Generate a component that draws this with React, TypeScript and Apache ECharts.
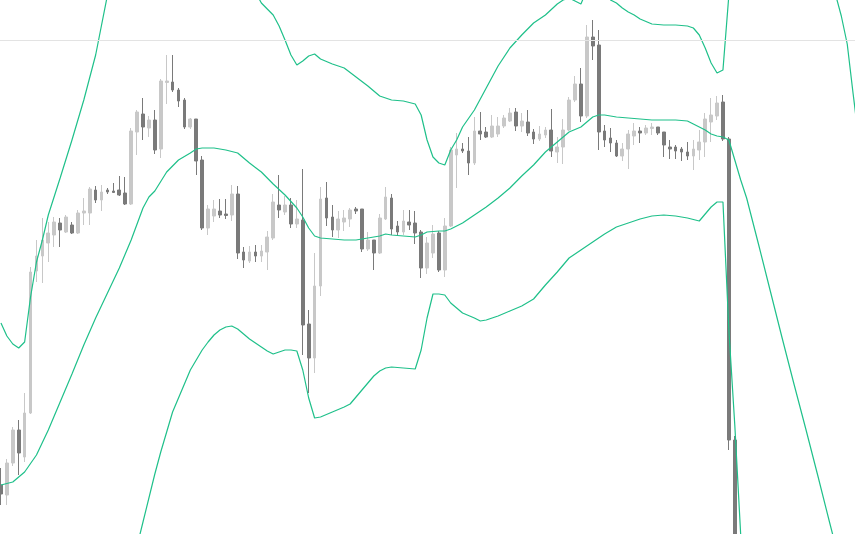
import React, { useEffect, useRef } from "react";
import * as echarts from "echarts";

// Each candle: [open, close, low, high]
const candles: number[][] = [
  [49, 40, 29, 66], [39, 71, 29, 75], [71, 104, 68, 107], [104, 81, 59, 114], [77, 121, 72, 141],
  [121, 262, 120, 267], [263, 278, 252, 294], [278, 294, 251, 316], [291, 301, 272, 312], [299, 312, 287, 317],
  [311, 304, 287, 316], [302, 317, 301, 319], [309, 301, 300, 312], [301, 321, 300, 324], [321, 323, 309, 336],
  [321, 345, 309, 347], [344, 334, 331, 348], [334, 342, 323, 349], [344, 342, 340, 346], [343, 341.5, 341, 351],
  [344, 339, 338, 358], [341, 330, 329, 357], [330, 403, 329, 406], [402, 422, 379, 424], [420, 407, 394, 436],
  [406, 414, 397, 418], [414, 384, 380, 424], [385, 453, 376, 455], [451.5, 453, 430, 479], [452, 444, 442, 479],
  [444, 433, 427, 446], [434, 407, 405, 436], [407, 415, 405, 416], [415, 373, 359, 415], [374, 306, 304, 378],
  [306, 325, 299, 329], [318, 325, 312, 334], [323, 319, 316, 335], [320, 318.5, 315, 335], [319, 340, 313, 349],
  [340, 281, 275, 348], [282, 274, 266, 287], [273, 282, 271, 288], [282, 278, 272, 289], [278, 283, 272, 289],
  [282, 297, 264, 303], [296, 332, 294, 340], [329, 324, 316, 359], [322, 329, 319, 338], [329, 310, 306, 336],
  [310, 315, 306, 334], [314, 209, 179, 365], [210, 176, 141, 224], [176, 248, 161, 281], [248, 335, 238, 347],
  [336, 316, 308, 352], [317, 304, 297, 329], [304, 315, 296, 323], [312, 316, 303, 324], [315, 324, 307, 326],
  [325, 323, 320, 327], [325, 285, 282, 325], [285, 294, 283, 302], [294, 281, 264, 294], [281, 316, 280, 320],
  [315, 337, 314, 347], [336, 305, 299, 340], [308, 302, 298, 313], [302, 313, 299, 324], [312, 309, 304, 324],
  [311, 301, 290, 323], [302, 266, 256, 304], [266, 291, 260, 297], [281, 300, 276, 309], [301, 264, 262, 303],
  [264, 308, 257, 316], [308, 384, 307, 387], [379, 385, 346, 401], [385, 383, 381, 391], [383, 371, 359, 397],
  [371, 403, 369, 417], [403, 400, 394, 422], [402, 397, 396, 407], [397, 408, 396, 419], [400, 408, 397, 417],
  [408, 416, 406, 419], [413, 421, 412, 426], [422, 408, 403, 426], [408, 413, 402, 421], [412, 401, 398, 424],
  [402, 395, 390, 405], [395, 400, 393, 408], [399, 404, 396, 407], [404, 383, 377, 425], [382, 387, 371, 397],
  [387, 404, 370, 415], [404, 434, 403, 437], [434, 450, 432, 458], [450, 418, 412, 466], [418, 497, 416, 509],
  [497, 488, 474, 514], [489, 402, 384, 504], [403, 394, 387, 409], [396, 391, 382, 406], [391, 378, 377, 394],
  [378, 385, 373, 391], [385, 400, 365, 404], [398, 403, 389, 411], [403, 401, 391, 407], [401, 406, 399, 409],
  [405.5, 407, 399, 411], [407, 401, 399, 407], [402, 389, 377, 402], [387, 385, 375, 394], [387, 383, 375, 389],
  [385, 382, 373, 387], [382, 378, 374, 392], [378, 385, 364, 394], [384, 392, 374, 404], [392, 415, 377, 421],
  [412, 419, 392, 436], [418, 431, 414, 438], [432, 395, 393, 439], [395, 94, 84, 397], [94, -66, -86, 98],
];

// Bands: [category index, value]
const upperBand: number[][] = [
  [0, 211], [1, 198], [2, 190], [3, 186], [4, 192], [5, 237], [6, 272], [7, 294], [8, 319], [10, 356],
  [12, 394], [14, 434], [16, 479], [17, 509], [18, 539], [20, 594], [30, 750], [42, 559], [43, 542], [44, 531],
  [45, 525], [46, 519], [47, 508], [48, 494], [49, 479], [50, 469], [51, 473], [52, 478], [53, 480], [54, 475],
  [56, 470], [58, 466], [60, 457], [62, 448], [64, 438], [66, 434], [68, 433], [70, 430], [71, 419], [72, 394],
  [73, 377], [74, 371], [75, 369], [76, 384], [77, 394], [78, 407], [80, 424], [82, 446], [84, 468], [86, 486],
  [88, 499], [90, 511], [92, 519], [94, 530], [95, 534], [96, 536], [97, 533], [98, 530], [99, 544], [101, 574],
  [103, 534], [104, 531], [105, 526], [106, 522], [107, 519], [108, 515], [110, 510], [112, 509], [114, 509],
  [116, 508], [117, 506], [118, 499], [119, 486], [120, 471], [121, 461], [122, 464], [123, 539], [124, 650],
  [132, 750], [141, 540], [142, 518], [143, 490], [144, 440], [145, 392],
];

const middleBand: number[][] = [
  [0, 49], [2, 52], [4, 62], [6, 79], [8, 104], [10, 132], [12, 160], [14, 189], [16, 216], [18, 241],
  [20, 266], [22, 294], [24, 326], [25, 337], [26, 343], [28, 362], [30, 374], [32, 381], [33, 385], [34, 386],
  [36, 386], [38, 384], [40, 381], [42, 371], [44, 362], [46, 350], [48, 339], [50, 326], [51, 317], [52, 306],
  [53, 298], [54, 296], [56, 295], [58, 294], [60, 294], [62, 296], [64, 298], [65, 300], [66, 299], [68, 298],
  [70, 297], [71, 299], [72, 302], [74, 303], [75, 303], [76, 305], [78, 311], [80, 319], [82, 327], [84, 336],
  [86, 346], [88, 358], [90, 369], [92, 382], [94, 392], [96, 402], [98, 407], [99, 412], [100, 417], [101, 419],
  [102, 419], [104, 417], [106, 416], [108, 415], [110, 414], [112, 414], [114, 414], [116, 413], [117, 410],
  [118, 407], [119, 404], [120, 400], [121, 398], [122, 397], [123, 394], [124, 374], [125, 354], [126, 336],
  [128, 290], [130, 243], [132, 196], [134, 150], [136, 105], [138, 59], [140, 12], [141, -11],
];

const lowerBand: number[][] = [
  [22, -36], [24, 12], [26, 60], [27, 82], [28, 102], [29, 122], [31, 150], [32, 164], [33, 174], [34, 184],
  [35, 192], [36, 199], [37, 204], [38, 207], [39, 208], [40, 205], [41, 200], [42, 195], [43, 191], [44, 187],
  [45, 183], [46, 180], [47, 182], [48, 184], [49, 184], [50, 183], [51, 164], [52, 136], [53, 116], [54, 117],
  [56, 122], [58, 127], [59, 130], [60, 137], [61, 144], [62, 151], [63, 158], [64, 163], [65, 166], [66, 167],
  [68, 166], [70, 165], [71, 184], [72, 216], [73, 240], [74, 240], [75, 239], [76, 231], [77, 226], [78, 221],
  [80, 216], [81, 213], [82, 214], [84, 218], [86, 223], [88, 228], [90, 235], [91, 242], [92, 249], [94, 262],
  [96, 276], [98, 284], [100, 292], [102, 300], [104, 307], [106, 311], [108, 315], [110, 318], [112, 319],
  [114, 318], [116, 316], [118, 313], [119, 320], [120, 327], [121, 332], [122, 332], [123, 204], [124, 109],
  [125, -1], [126, -86],
];

const referenceLevel = 493.5;

const CATEGORY_COUNT = 146;
const categories = Array.from({ length: CATEGORY_COUNT }, (_, i) => `P${i + 1}`);

function expand(pairs: number[][]): (number | null)[] {
  const arr: (number | null)[] = new Array(CATEGORY_COUNT).fill(null);
  pairs.forEach(([i, v]) => {
    arr[i] = v;
  });
  return arr;
}

const BAND_COLOR = "#1fc08a";

export default function App() {
  const ref = useRef<HTMLDivElement>(null);
  useEffect(() => {
    if (!ref.current) return;
    const chart = echarts.init(ref.current, null, { renderer: "svg" });
    const lineBase = {
      type: "line",
      showSymbol: false,
      symbol: "none",
      connectNulls: true,
      smooth: false,
      silent: true,
      clip: true,
      lineStyle: { color: BAND_COLOR, width: 1.2 },
      z: 3,
    };
    chart.setOption({
      animation: false,
      backgroundColor: "#ffffff",
      grid: { left: 0, top: 0, width: CATEGORY_COUNT * 5.918, height: 534, containLabel: false },
      xAxis: {
        type: "category",
        data: categories,
        show: false,
        boundaryGap: true,
      },
      yAxis: {
        type: "value",
        min: 0,
        max: 534,
        show: false,
        splitLine: { show: false },
      },
      series: [
        {
          type: "candlestick",
          data: candles,
          barWidth: 3.2,
          clip: true,
          silent: true,
          z: 2,
          itemStyle: {
            color: "#c8c8c8",
            color0: "#7a7a7a",
            borderColor: "#c8c8c8",
            borderColor0: "#7a7a7a",
            borderWidth: 1,
          },
          markLine: {
            silent: true,
            symbol: ["none", "none"],
            label: { show: false },
            lineStyle: { color: "#e3e3e3", width: 1, type: "solid" },
            data: [{ yAxis: referenceLevel }],
          },
        },
        { ...lineBase, name: "Upper", data: expand(upperBand) },
        { ...lineBase, name: "Middle", data: expand(middleBand) },
        { ...lineBase, name: "Lower", data: expand(lowerBand) },
      ],
    });
    return () => chart.dispose();
  }, []);
  return (
    <div
      style={{
        position: "fixed",
        left: 0,
        top: 0,
        width: 855,
        height: 534,
        overflow: "hidden",
        background: "#ffffff",
      }}
    >
      <div
        ref={ref}
        style={{ position: "absolute", left: -1.96, top: 0, width: 870, height: 534 }}
      />
    </div>
  );
}
